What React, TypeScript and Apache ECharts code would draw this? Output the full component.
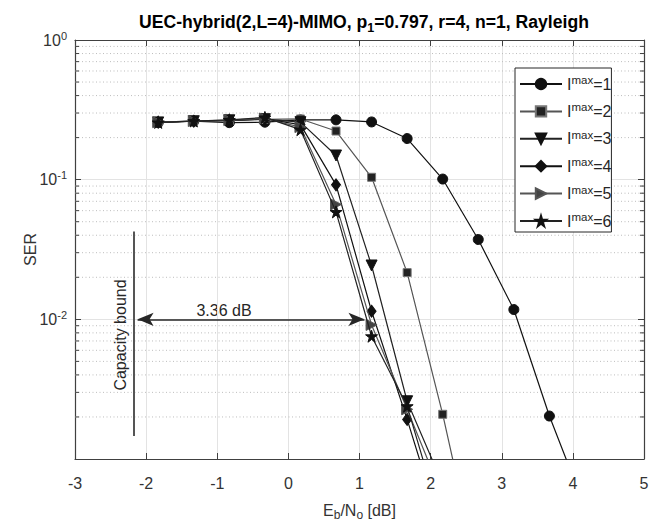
import { useEffect, useRef } from 'react';
import * as echarts from 'echarts';

// Eb/N0 [dB] sample points
const EBN0 = [-1.83, -1.33, -0.83, -0.33, 0.17, 0.67, 1.17, 1.67, 2.17, 2.67, 3.17, 3.67, 4.17];

// SER values for each I^max
const SER_I1 = [0.256, 0.262, 0.256, 0.258, 0.268, 0.268, 0.259, 0.197, 0.101, 0.0373, 0.01175, 0.00203, 0.00045];
const SER_I2 = [0.258, 0.263, 0.265, 0.27, 0.272, 0.223, 0.104, 0.0216, 0.00209, 0.00015];
const SER_I3 = [0.257, 0.262, 0.266, 0.271, 0.258, 0.149, 0.0243, 0.00259, 0.00066];
const SER_I4 = [0.258, 0.262, 0.266, 0.272, 0.248, 0.0918, 0.01143, 0.00192, 0.00029];
const SER_I5 = [0.258, 0.263, 0.267, 0.274, 0.238, 0.0665, 0.00912, 0.00227, 0.00054];
const SER_I6 = [0.257, 0.263, 0.268, 0.279, 0.228, 0.0588, 0.00757, 0.00239, 0.00033];

const IMAX = ['1', '2', '3', '4', '5', '6'];

// axis ranges / ticks
const X_MIN = -3;
const X_MAX = 5;
const X_INTERVAL = 1;
const Y_MIN = 0.001;
const Y_MAX = 1;
const Y_MINOR = [
  0.002, 0.003, 0.004, 0.005, 0.006, 0.007, 0.008, 0.009,
  0.02, 0.03, 0.04, 0.05, 0.06, 0.07, 0.08, 0.09,
  0.2, 0.3, 0.4, 0.5, 0.6, 0.7, 0.8, 0.9,
];

// annotations (data space)
const CAPACITY_X = -2.17;
const CAPACITY_Y = [0.0426, 0.00146];
const GAP_ARROW_X = [-2.12, 1.07];
const GAP_ARROW_Y = 0.01;
const GAP_LABEL = '3.36 dB';
const CAPACITY_LABEL = 'Capacity bound';

const FONT = '"Liberation Sans", Arial, Helvetica, sans-serif';
const STAR = 'path://M50,0 L61,35 L98,35 L68,57 L79,91 L50,70 L21,91 L32,57 L2,35 L39,35 Z';

export default function App() {
  const ref = useRef<HTMLDivElement>(null);

  useEffect(() => {
    document.body.style.margin = '0';
    const chart = echarts.init(ref.current!, undefined, { renderer: 'svg' });

    const pairs = (vals: number[]) => vals.map((v, i) => [EBN0[i], v]);

    const styles = [
      { data: SER_I1, symbol: 'circle', size: 10, rotate: 0, line: '#111', fill: '#111', border: '#111' },
      { data: SER_I2, symbol: 'rect', size: 8, rotate: 0, line: '#555', fill: '#222', border: '#777' },
      { data: SER_I3, symbol: 'triangle', size: 11, rotate: 180, line: '#222', fill: '#111', border: '#111' },
      { data: SER_I4, symbol: 'diamond', size: [9, 12], rotate: 0, line: '#111', fill: '#111', border: '#111' },
      { data: SER_I5, symbol: 'triangle', size: 11, rotate: -90, line: '#555', fill: '#444', border: '#555' },
      { data: SER_I6, symbol: STAR, size: 12, rotate: 0, line: '#222', fill: '#111', border: '#111' },
    ];

    const lineSeries = styles.map((s, i) => ({
      type: 'line',
      name: 'I' + IMAX[i],
      data: pairs(s.data),
      symbol: s.symbol,
      symbolSize: s.size,
      symbolRotate: s.rotate,
      showAllSymbol: true,
      clip: true,
      z: 3 + i,
      lineStyle: { color: s.line, width: 1.2 },
      itemStyle: { color: s.fill, borderColor: s.border, borderWidth: 1 },
      emphasis: { disabled: true },
    }));

    const minorSeries = {
      type: 'custom',
      name: 'minor',
      silent: true,
      z: 1,
      clip: false,
      data: Y_MINOR.map((v) => [X_MIN, v]),
      encode: { x: 0, y: 1 },
      renderItem: (params: any, api: any) => {
        const cs = params.coordSys;
        const y = api.coord([api.value(0), api.value(1)])[1];
        return {
          type: 'group',
          children: [
            { type: 'line', shape: { x1: cs.x, y1: y, x2: cs.x + cs.width, y2: y }, style: { stroke: '#bdbdbd', lineWidth: 1, lineDash: [1, 2.5] } },
            { type: 'line', shape: { x1: cs.x, y1: y, x2: cs.x + 4, y2: y }, style: { stroke: '#404040', lineWidth: 1 } },
            { type: 'line', shape: { x1: cs.x + cs.width - 4, y1: y, x2: cs.x + cs.width, y2: y }, style: { stroke: '#404040', lineWidth: 1 } },
          ],
        };
      },
    };

    const annotationSeries = {
      type: 'line',
      name: 'annot',
      data: [],
      silent: true,
      z: 10,
      markLine: {
        silent: true,
        animation: false,
        label: { show: false },
        emphasis: { disabled: true },
        data: [
          [
            { coord: [CAPACITY_X, CAPACITY_Y[0]], symbol: 'none', lineStyle: { color: '#555', width: 2, type: 'solid' } },
            { coord: [CAPACITY_X, CAPACITY_Y[1]], symbol: 'none' },
          ],
          [
            { coord: [GAP_ARROW_X[0], GAP_ARROW_Y], symbol: 'arrow', symbolSize: [10, 16], lineStyle: { color: '#262626', width: 1.5, type: 'solid' } },
            { coord: [GAP_ARROW_X[1], GAP_ARROW_Y], symbol: 'arrow', symbolSize: [10, 16] },
          ],
        ],
      },
    };

    const axisLine = { show: true, onZero: false, lineStyle: { color: '#404040', width: 1.2 } };
    const axisTick = { show: true, inside: true, length: 6, lineStyle: { color: '#404040', width: 1 } };
    const splitLine = { show: true, lineStyle: { color: '#e3e3e3', width: 1 } };

    const option: any = {
      animation: false,
      backgroundColor: '#fff',
      title: {
        text: '{t|UEC-hybrid(2,L=4)-MIMO, p}{sub|1}{t|=0.797, r=4, n=1, Rayleigh}',
        left: 359,
        top: 5,
        textAlign: 'center',
        textStyle: {
          rich: {
            t: { fontFamily: FONT, fontSize: 17.6, fontWeight: 'bold', color: '#000', lineHeight: 24 },
            sub: { fontFamily: FONT, fontSize: 12.5, fontWeight: 'bold', color: '#000', lineHeight: 12, verticalAlign: 'bottom' },
          },
        },
      },
      grid: { left: 75, right: 16, top: 40, bottom: 57 },
      legend: {
        data: IMAX.map((n) => 'I' + n),
        orient: 'vertical',
        left: 515,
        top: 68,
        itemWidth: 42,
        itemHeight: 13,
        itemGap: 9.4,
        padding: [6, 0, 3, 4],
        backgroundColor: '#fff',
        borderColor: '#262626',
        borderWidth: 1,
        borderRadius: 0,
        selectedMode: false,
        z: 20,
        formatter: (name: string) => `{i|I}{s|max}{e|=${name.slice(1)}}`,
        textStyle: {
          rich: {
            i: { fontFamily: FONT, fontSize: 16, color: '#262626', lineHeight: 20 },
            s: { fontFamily: FONT, fontSize: 11.5, color: '#262626', lineHeight: 8, verticalAlign: 'top' },
            e: { fontFamily: FONT, fontSize: 16, color: '#262626', lineHeight: 20 },
          },
        },
      },
      xAxis: [
        {
          type: 'value',
          min: X_MIN,
          max: X_MAX,
          interval: X_INTERVAL,
          position: 'bottom',
          axisLine,
          axisTick,
          splitLine,
          axisLabel: { fontFamily: FONT, fontSize: 16, color: '#333', margin: 16 },
          name: '{t|E}{sub|b}{t|/N}{sub|o}{t| [dB]}',
          nameLocation: 'middle',
          nameGap: 40,
          nameMoveOverlap: false,
          nameTextStyle: {
            rich: {
              t: { fontFamily: FONT, fontSize: 16, color: '#333', lineHeight: 22 },
              sub: { fontFamily: FONT, fontSize: 12, color: '#333', lineHeight: 12, verticalAlign: 'bottom' },
            },
          },
        },
        {
          type: 'value',
          min: X_MIN,
          max: X_MAX,
          interval: X_INTERVAL,
          position: 'top',
          axisLine,
          axisTick,
          splitLine: { show: false },
          axisLabel: { show: false },
        },
      ],
      yAxis: [
        {
          type: 'log',
          logBase: 10,
          min: Y_MIN,
          max: Y_MAX,
          position: 'left',
          axisLine,
          axisTick,
          splitLine,
          axisLabel: {
            margin: 8,
            formatter: (v: number) => {
              if (v <= Y_MIN * 1.01) return '';
              const e = Math.round(Math.log10(v));
              return `{b|10}{s|${e}}`;
            },
            rich: {
              b: { fontFamily: FONT, fontSize: 16, color: '#333', lineHeight: 20 },
              s: { fontFamily: FONT, fontSize: 11, color: '#333', lineHeight: 8, verticalAlign: 'top' },
            },
          },
          name: 'SER',
          nameLocation: 'middle',
          nameGap: 37,
          nameMoveOverlap: false,
          nameTextStyle: { fontFamily: FONT, fontSize: 16, color: '#333' },
        },
        {
          type: 'log',
          logBase: 10,
          min: Y_MIN,
          max: Y_MAX,
          position: 'right',
          axisLine,
          axisTick,
          splitLine: { show: false },
          axisLabel: { show: false },
        },
      ],
      graphic: [
        {
          type: 'text',
          x: 224,
          y: 310,
          style: { text: GAP_LABEL, font: `16px ${FONT}`, fill: '#262626', textAlign: 'center', textVerticalAlign: 'middle' },
        },
        {
          type: 'text',
          x: 120,
          y: 335,
          rotation: Math.PI / 2,
          style: { text: CAPACITY_LABEL, font: `16px ${FONT}`, fill: '#262626', textAlign: 'center', textVerticalAlign: 'middle' },
        },
      ],
      series: [minorSeries, ...lineSeries, annotationSeries],
    };

    chart.setOption(option);
    return () => chart.dispose();
  }, []);

  return <div ref={ref} style={{ position: 'absolute', left: 0, top: 0, width: 660, height: 526 }} />;
}
